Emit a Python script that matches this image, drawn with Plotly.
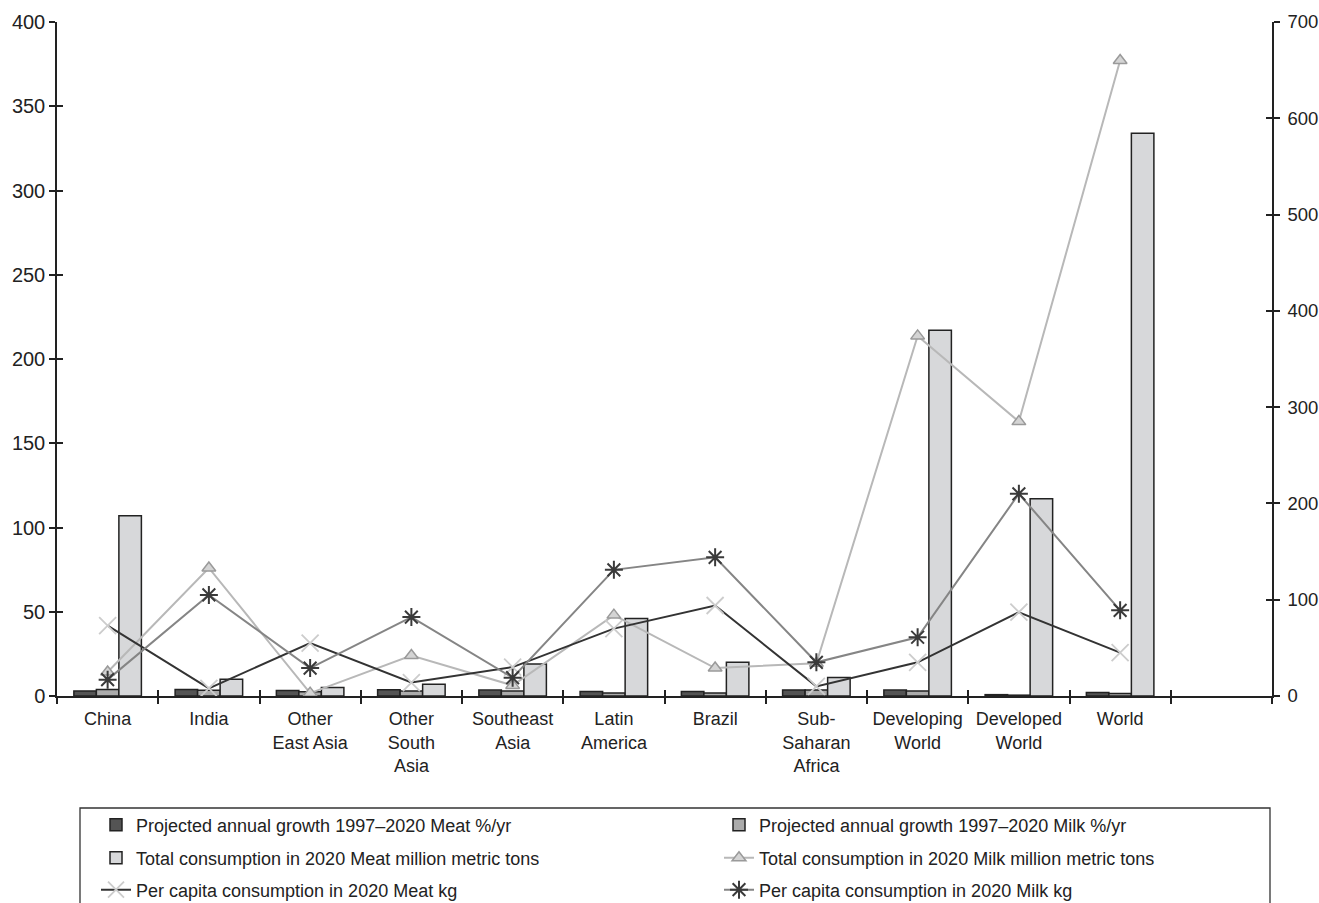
import plotly.graph_objects as go

categories = ["China", "India", "Other<br>East Asia", "Other<br>South<br>Asia", "Southeast<br>Asia",
              "Latin<br>America", "Brazil", "Sub-<br>Saharan<br>Africa", "Developing<br>World",
              "Developed<br>World", "World"]
axis_categories = categories + [" "]

meat_growth = [3.0, 3.8, 3.2, 3.7, 3.5, 2.6, 2.7, 3.6, 3.5, 0.8, 2.1]
milk_growth = [3.8, 3.4, 2.5, 3.0, 2.9, 1.8, 1.8, 3.6, 3.0, 0.5, 1.5]
meat_total = [107, 10, 5, 7, 19, 46, 20, 11, 217, 117, 334]
milk_total = [25, 133, 3, 42, 11, 84, 29, 34, 374, 285, 660]
meat_pc = [73, 8, 55, 14, 30, 70, 94, 10, 35, 87, 45]
milk_pc = [17, 105, 29, 82, 19, 131, 144, 35, 61, 210, 89]

FONT = "Liberation Sans, Arial, sans-serif"
TXT = "#222222"
EDGE = "#222222"

fig = go.Figure()
fig.add_trace(go.Bar(x=categories, y=meat_growth, name="Projected annual growth 1997\u20132020 Meat %/yr",
                     legend="legend",
                     marker=dict(color="#545454", line=dict(color=EDGE, width=1.5))))
fig.add_trace(go.Bar(x=categories, y=milk_growth, name="Projected annual growth 1997\u20132020 Milk %/yr",
                     legend="legend2",
                     marker=dict(color="#ababab", line=dict(color=EDGE, width=1.5))))
fig.add_trace(go.Bar(x=categories, y=meat_total, name="Total consumption in 2020 Meat million metric tons",
                     legend="legend3",
                     marker=dict(color="#d7d8da", line=dict(color=EDGE, width=1.5))))
fig.add_trace(go.Scatter(x=categories, y=milk_total, yaxis="y2", mode="lines+markers",
                         name="Total consumption in 2020 Milk million metric tons",
                         legend="legend4",
                         line=dict(color="#b8b8b8", width=2),
                         marker=dict(symbol="triangle-up", size=12, color="#d4d4d4",
                                     line=dict(color="#9a9a9a", width=1.5))))
fig.add_trace(go.Scatter(x=categories, y=meat_pc, yaxis="y2", mode="lines+markers",
                         name="Per capita consumption in 2020 Meat kg",
                         legend="legend5",
                         line=dict(color="#333333", width=2),
                         marker=dict(symbol="x-thin-open", size=17, color="#cccccc",
                                     line=dict(color="#cccccc", width=1.8))))
fig.add_trace(go.Scatter(x=categories, y=milk_pc, yaxis="y2", mode="lines+markers",
                         name="Per capita consumption in 2020 Milk kg",
                         legend="legend6",
                         line=dict(color="#858585", width=2),
                         marker=dict(symbol="asterisk-open", size=15, color="#3a3a3a",
                                     line=dict(color="#3a3a3a", width=2))))

# invisible traces to activate the overlay tick axes (crossing tick marks)
fig.add_trace(go.Scatter(x=[0], y=[0], xaxis="x2", yaxis="y3", mode="markers",
                         marker=dict(opacity=0), showlegend=False, hoverinfo="skip"))
fig.add_trace(go.Scatter(x=[0], y=[0], xaxis="x2", yaxis="y4", mode="markers",
                         marker=dict(opacity=0), showlegend=False, hoverinfo="skip"))

line_common = dict(showgrid=False, zeroline=False, showline=True, linecolor="#222", linewidth=1.5,
                   tickcolor="#222", tickwidth=1.5, ticklen=6)
inside_common = dict(showticklabels=False, showline=False, showgrid=False, zeroline=False,
                     tickcolor="#222", tickwidth=1.5, ticklen=6, ticks="inside")

# plot area in pixels: x 57..1272, y 22..696
PL, PW, PT, PH = 57, 1215, 22, 674


def px_x(px):
    return (px - PL) / PW


def px_y(py):
    return (PT + PH - py) / PH


leg_font = dict(family=FONT, size=18, color=TXT)
col_x = [px_x(96), px_x(719)]
row_y = [px_y(825), px_y(858), px_y(890)]
legends = {}
for i in range(6):
    key = "legend" if i == 0 else f"legend{i + 1}"
    legends[key] = dict(x=col_x[i % 2], xanchor="left", y=row_y[i // 2], yanchor="middle",
                        bgcolor="rgba(0,0,0,0)", borderwidth=0, font=leg_font, itemwidth=30)

fig.update_layout(
    width=1319, height=903,
    margin=dict(l=PL, r=1319 - PL - PW, t=PT, b=903 - PT - PH, autoexpand=False),
    plot_bgcolor="white", paper_bgcolor="white",
    barmode="group", bargap=0.333, bargroupgap=0,
    font=dict(family=FONT, size=18, color=TXT),
    xaxis=dict(type="category", categoryorder="array", categoryarray=axis_categories,
               range=[-0.5, 11.5], ticks="outside", tickson="boundaries",
               tickfont=dict(family=FONT, size=18, color=TXT), ticklabelstandoff=6, **line_common),
    xaxis2=dict(overlaying="x", range=[-0.5, 11.5], tick0=-0.5, dtick=1, side="bottom",
                anchor="y", **inside_common),
    yaxis=dict(range=[0, 400], dtick=50, ticks="outside",
               tickfont=dict(family=FONT, size=20, color=TXT), **line_common),
    yaxis2=dict(range=[0, 700], dtick=100, overlaying="y", side="right", ticks="outside",
                anchor="x", tickfont=dict(family=FONT, size=18.5, color=TXT), ticklabelstandoff=4,
                **line_common),
    yaxis3=dict(range=[0, 400], dtick=50, overlaying="y", side="left", anchor="x", **inside_common),
    yaxis4=dict(range=[0, 700], dtick=100, overlaying="y", side="right", anchor="x", **inside_common),
    showlegend=True,
    shapes=[dict(type="rect", xref="paper", yref="paper",
                 x0=px_x(80), x1=px_x(1270), y0=px_y(808), y1=px_y(930),
                 line=dict(color="#333333", width=1.3), fillcolor="rgba(0,0,0,0)", layer="above")],
    **legends,
)

fig.write_html("out.html")
